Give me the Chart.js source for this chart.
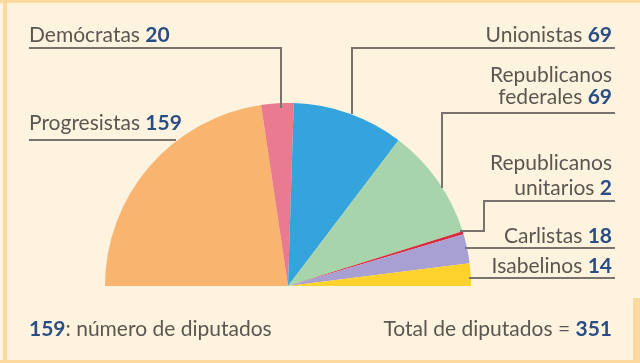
<!DOCTYPE html>
<html>
<head>
<meta charset="utf-8">
<script src="https://cdn.jsdelivr.net/npm/chart.js@4"></script>
<style>
  html, body { margin: 0; padding: 0; background: #fdf3de; }
  canvas { display: block; }
</style>
</head>
<body>
<canvas id="chart" width="640" height="363"></canvas>
<script>
// Data
const partidos = ['Progresistas', 'Demócratas', 'Unionistas', 'Republicanos federales', 'Republicanos unitarios', 'Carlistas', 'Isabelinos'];
const diputados = [159, 20, 69, 69, 2, 18, 14];
const colores = ['#f9b46f', '#e97a8f', '#35a4dd', '#a8d4ab', '#d82a40', '#a89fd3', '#fdd22c'];
const total = diputados.reduce((a, b) => a + b, 0);

const TEXT = '#5b5651';
const NUM = '#2b4d85';
const LINE = '#7a736b';
const FONT = 'Lato, sans-serif';
const SIZE = 21;

// label placement (baseline y, anchor x) and leader line path for each party
const etiquetas = [
  { rows: ['Progresistas'], x: 29, y: [130], align: 'left', path: [[29, 140], [176, 140]] },
  { rows: ['Demócratas'], x: 29, y: [42], align: 'left', path: [[29, 48], [281, 48], [281, 108]] },
  { rows: ['Unionistas'], x: 612, y: [42], align: 'right', path: [[615, 48], [352, 48], [352, 114]] },
  { rows: ['Republicanos', 'federales'], x: 612, y: [82, 104], align: 'right', path: [[615, 113], [442, 113], [442, 188]] },
  { rows: ['Republicanos', 'unitarios'], x: 612, y: [170, 195], align: 'right', path: [[615, 201], [484, 201], [484, 231], [460, 231]] },
  { rows: ['Carlistas'], x: 612, y: [243], align: 'right', path: [[615, 248], [465, 248]] },
  { rows: ['Isabelinos'], x: 612, y: [273], align: 'right', path: [[615, 278], [469, 278]] }
];

function drawPair(ctx, txt, num, x, y, align) {
  ctx.font = SIZE + 'px ' + FONT;
  const wTxt = ctx.measureText(txt).width;
  ctx.font = 'bold ' + SIZE + 'px ' + FONT;
  const wNum = ctx.measureText(num).width;
  let start = align === 'left' ? x : x - wTxt - wNum;
  ctx.textAlign = 'left';
  ctx.font = SIZE + 'px ' + FONT;
  ctx.fillStyle = TEXT;
  ctx.fillText(txt, start, y);
  ctx.font = 'bold ' + SIZE + 'px ' + FONT;
  ctx.fillStyle = NUM;
  ctx.fillText(num, start + wTxt, y);
}

const decoracion = {
  id: 'decoracion',
  beforeDraw(chart) {
    const ctx = chart.ctx;
    ctx.save();
    ctx.fillStyle = '#fdf3de';
    ctx.fillRect(0, 0, chart.width, chart.height);
    ctx.restore();
  },
  afterDraw(chart) {
    const ctx = chart.ctx;
    ctx.save();
    // frame
    ctx.fillStyle = '#fcd99f';
    ctx.fillRect(0, 0, chart.width, 3);
    ctx.fillRect(3, 0, 4, chart.height);
    ctx.fillRect(0, chart.height - 3, chart.width, 3);
    ctx.fillRect(chart.width - 7, 298, 7, chart.height - 298);

    // leader lines
    ctx.strokeStyle = LINE;
    ctx.lineWidth = 2;
    ctx.lineCap = 'butt';
    etiquetas.forEach(e => {
      ctx.beginPath();
      e.path.forEach((p, i) => i ? ctx.lineTo(p[0], p[1]) : ctx.moveTo(p[0], p[1]));
      ctx.stroke();
    });

    // labels
    ctx.textBaseline = 'alphabetic';
    etiquetas.forEach((e, i) => {
      e.rows.forEach((row, j) => {
        const last = j === e.rows.length - 1;
        if (last) {
          drawPair(ctx, row + ' ', String(diputados[i]), e.x, e.y[j], e.align);
        } else {
          ctx.font = SIZE + 'px ' + FONT;
          ctx.fillStyle = TEXT;
          ctx.textAlign = e.align;
          ctx.fillText(row, e.x, e.y[j]);
        }
      });
    });

    // footer
    drawPair(ctx, '', String(diputados[0]), 29, 336, 'left');
    ctx.font = 'bold ' + SIZE + 'px ' + FONT;
    const w159 = ctx.measureText(String(diputados[0])).width;
    ctx.font = SIZE + 'px ' + FONT;
    ctx.fillStyle = TEXT;
    ctx.textAlign = 'left';
    ctx.fillText(': número de diputados', 29 + w159, 336);
    drawPair(ctx, 'Total de diputados = ', String(total), 612, 336, 'right');
    ctx.restore();
  }
};

new Chart(document.getElementById('chart'), {
  type: 'doughnut',
  data: {
    labels: partidos,
    datasets: [{
      data: diputados,
      backgroundColor: colores,
      borderWidth: 0
    }]
  },
  options: {
    responsive: false,
    animation: false,
    cutout: 0,
    rotation: -90,
    circumference: 180,
    layout: { padding: { left: 105, right: 169, top: 103, bottom: 77 } },
    plugins: {
      legend: { display: false },
      tooltip: { enabled: false }
    }
  },
  plugins: [decoracion]
});
</script>
</body>
</html>
